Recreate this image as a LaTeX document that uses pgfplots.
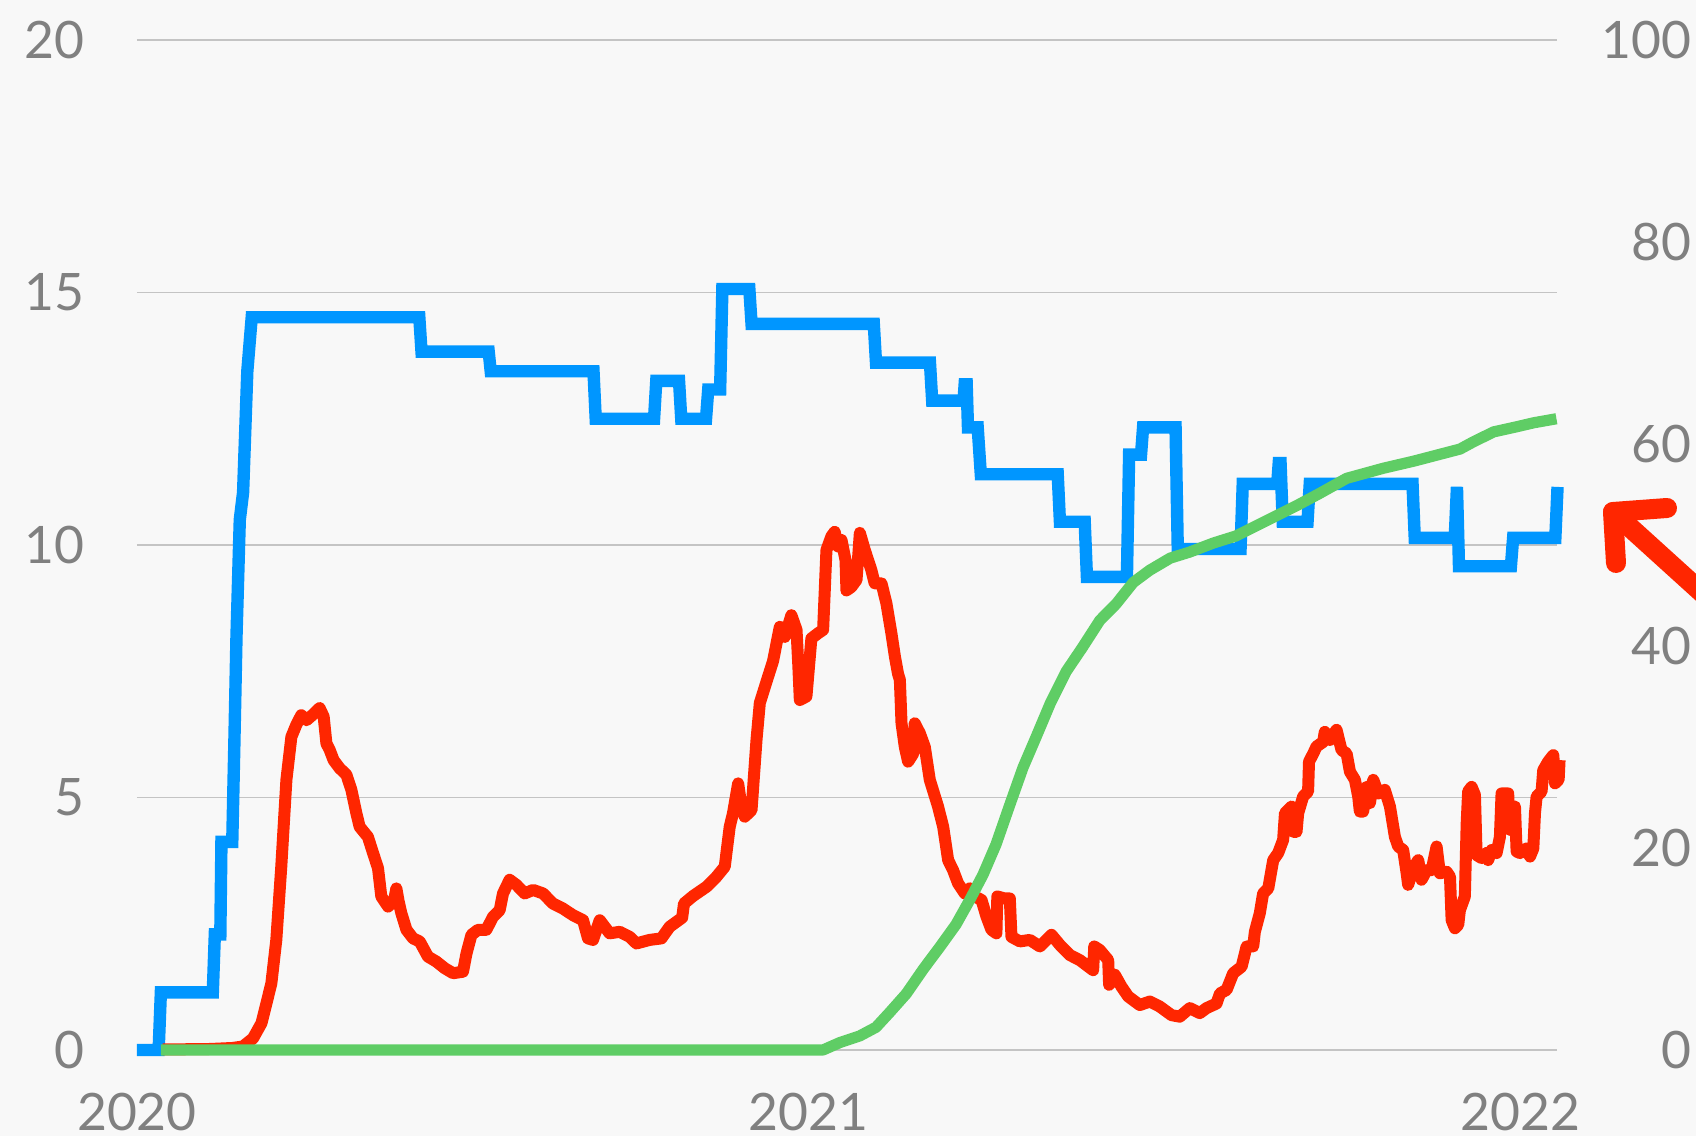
\documentclass[border=0pt]{standalone}
\usepackage{fontspec}
\setmainfont{Lato}
\usepackage{pgfplots}
\pgfplotsset{compat=1.18}
\definecolor{bg}{HTML}{F8F8F8}
\definecolor{tickgray}{HTML}{808080}
\definecolor{gridgray}{HTML}{C4C4C4}
\definecolor{cblue}{HTML}{0096FF}
\definecolor{cred}{HTML}{FF2600}
\definecolor{cgreen}{HTML}{5FCD65}
\begin{document}
\begin{tikzpicture}
\useasboundingbox (-34.25pt,-21.5pt) rectangle (389.75pt,262.5pt);
\fill[bg] (-34.25pt,-21.5pt) rectangle (389.75pt,262.5pt);
\pgfplotsset{common/.style={scale only axis, width=355pt, height=252.5pt,
  at={(0pt,0pt)}, anchor=south west, xmin=0, xmax=773.6, clip=false,
  axis line style={draw=none}, major tick style={draw=none}, minor tick style={draw=none},
  /pgf/number format/assume math mode=true,
  ticklabel style={font=\fontsize{12.9}{15}\selectfont, text=tickgray, inner sep=0pt}}}
\begin{axis}[common, ymin=0, ymax=20, ytick={0,5,10,15,20},
  ymajorgrids, grid style={gridgray, line width=0.45pt},
  xtick={0,366,753.9}, xticklabels={2020,2021,2022},
  xticklabel style={anchor=north, yshift=-10.5pt},
  yticklabel style={anchor=east, xshift=-13pt}]
% blue stepped series
\addplot[cblue, line width=3.1pt, line join=miter, miter limit=2] coordinates {
(0,0) (11.8,0) (13.0,1.14) (41.3,1.14) (42.4,2.29) (45.4,2.29) (46.0,4.12) (51.9,4.12)
(53.0,6.0) (54.2,8.19) (56.0,10.5) (57.8,11.04) (60.1,13.44) (62.5,14.51)
(153.8,14.51) (155.0,13.83) (191.6,13.83) (192.7,13.44) (248.7,13.44) (249.9,12.50)
(281.7,12.50) (282.9,13.25) (295.3,13.25) (296.5,12.50) (310.0,12.50) (311.2,13.08)
(317.7,13.08) (318.9,15.07) (333.6,15.07) (334.8,14.38) (401.4,14.38) (402.6,13.61)
(432.0,13.61) (433.2,12.86) (450.3,12.86) (450.9,13.18) (452.0,13.18) (452.7,12.33)
(458.0,12.33) (459.7,11.40) (501.6,11.40) (502.8,10.46) (516.3,10.46) (517.5,9.37)
(539.3,9.37) (540.5,11.79) (547.0,11.79) (548.1,12.33) (565.8,12.33) (567.0,9.92)
(601.2,9.92) (602.4,11.21) (621.2,11.21) (622.0,11.62) (623.0,11.62) (624.2,10.46)
(637.7,10.46) (638.9,11.21) (694.9,11.21) (696.1,10.14) (717.9,10.14) (719.1,11.15)
(720.2,9.58) (748.5,9.58) (749.7,10.14) (772.7,10.14) (773.9,11.15)
};
% red series
\addplot[cred, line width=3pt, line join=round] coordinates {
(14,0.01) (40,0.02) (52,0.04) (57.7,0.07) (63.2,0.23) (67.8,0.53) (70.5,0.92) (73.2,1.32)
(75.9,2.18) (78.6,3.63) (81.4,5.35) (84.1,6.2) (86.8,6.44) (89.5,6.63) (92.3,6.53)
(95.5,6.63) (99.5,6.77) (101.7,6.6) (103.2,6.07) (105.0,5.94) (107.1,5.74) (110.4,5.58)
(114.1,5.45) (116.8,5.15) (119.5,4.69) (121.3,4.42) (125.8,4.22) (128.6,3.9) (131.3,3.6)
(133.1,3.04) (136.8,2.84) (140.0,2.95) (141.3,3.2) (142.5,2.95) (144.0,2.71) (146.8,2.38)
(150.4,2.21) (154.0,2.15) (158.5,1.85) (163.1,1.75) (167.6,1.62) (172.2,1.52) (177.6,1.55)
(179.5,1.91) (182.2,2.28) (185.8,2.38) (190.3,2.38) (194.0,2.64) (197.6,2.77) (199.4,3.1)
(203.0,3.37) (206.7,3.27) (211.2,3.1) (215.8,3.17) (221.2,3.1) (226.6,2.9) (232.1,2.8)
(237.5,2.67) (243.0,2.57) (245.7,2.21) (248.4,2.18) (252.1,2.57) (257.5,2.31) (263.0,2.34)
(268.4,2.24) (272.1,2.11) (279.3,2.18) (285.7,2.21) (290.2,2.44) (297.0,2.62) (298.0,2.9)
(303.0,3.05) (310.2,3.23) (315.7,3.43) (320.2,3.63) (322.9,4.42) (324.7,4.69) (327.5,5.28)
(329.0,4.9) (331.1,4.62) (334.8,4.75) (337.5,6.14) (339.3,6.87) (343.0,7.3) (346.5,7.7)
(350.2,8.38) (352.9,8.18) (356.5,8.61) (359.3,8.32) (360.3,7.6) (361.1,6.93) (364.7,7.0)
(367.4,8.15) (371.0,8.25) (373.8,8.32) (375.6,9.9) (378.3,10.17) (380.1,10.26) (381.9,9.97)
(383.8,10.1) (386.0,9.7) (386.5,9.1) (389.2,9.17) (392.0,9.31) (393.8,10.24) (396.5,9.9)
(398.3,9.7) (400.1,9.5) (401.9,9.24) (405.6,9.24) (408.3,8.84) (411.0,8.25) (412.9,7.79)
(414.6,7.45) (415.6,7.33) (416.5,6.47) (418.3,6.0) (420.1,5.71) (422.9,5.87) (423.7,6.47)
(426.5,6.27) (429.2,6.0) (431.9,5.35) (436.4,4.82) (439.2,4.42) (441.9,3.76) (444.6,3.56)
(447.3,3.3) (451.0,3.1) (453.7,3.2) (456.4,3.04) (460.1,2.97) (462.8,2.64) (465.5,2.38)
(468.2,2.31) (468.7,3.04) (472.8,3.0) (475.5,3.0) (476.4,2.24) (481.0,2.15) (486.4,2.18)
(491.9,2.05) (498.2,2.28) (502.8,2.08) (508.2,1.88) (513.6,1.78) (520.9,1.58) (521.5,2.05)
(524.5,1.98) (529.1,1.78) (529.6,1.29) (532.7,1.49) (536.4,1.25) (540.0,1.06) (546.3,0.89)
(551.8,0.96) (557.2,0.86) (563.6,0.69) (568.1,0.66) (573.6,0.83) (579.0,0.73) (582.7,0.83)
(588.1,0.92) (590.0,1.12) (593.6,1.19) (597.2,1.52) (601.8,1.65) (604.5,2.05) (608.1,2.05)
(609.0,2.34) (611.7,2.71) (613.5,3.1) (616.3,3.2) (619.0,3.76) (621.7,3.9) (624.4,4.16)
(625.4,4.69) (629.0,4.82) (629.9,4.32) (631.7,4.32) (632.6,4.69) (635.3,5.02) (638.0,5.12)
(638.5,5.71) (640.8,5.87) (642.6,6.01) (646.2,6.1) (647.1,6.3) (649.9,6.14) (653.5,6.34)
(656.2,5.94) (659.0,5.87) (660.8,5.51) (663.5,5.35) (665.3,5.02) (666.2,4.72) (668.0,4.72)
(669.9,5.21) (671.7,4.89) (673.5,5.35) (676.2,5.08) (679.8,5.15) (682.6,4.82) (685.3,4.22)
(687.1,4.03) (689.8,3.96) (691.7,3.5) (692.5,3.27) (695.3,3.6) (698.0,3.76) (699.8,3.37)
(702.6,3.56) (705.3,3.56) (708.0,4.03) (709.8,3.5) (713.5,3.53) (715.3,3.43) (716.2,2.57)
(718.0,2.41) (719.8,2.48) (720.7,2.77) (723.4,3.04) (724.4,4.49) (725.2,5.12) (727.1,5.21)
(728.9,5.05) (729.8,3.86) (732.5,3.8) (735.2,3.9) (736.1,3.76) (738.0,3.96) (740.7,3.9)
(742.5,4.22) (743.4,5.08) (747.0,5.08) (747.9,4.36) (750.7,4.82) (751.6,3.93) (753.4,3.9)
(757.0,3.99) (758.9,3.83) (760.7,3.99) (761.6,4.69) (762.5,5.02) (765.2,5.12) (766.1,5.54)
(768.8,5.71) (771.6,5.84) (772.5,5.28) (774.5,5.35) (775.0,5.74)
};
\end{axis}
\begin{axis}[common, ymin=0, ymax=100, ytick={0,20,40,60,80,100},
  axis y line*=right, hide x axis,
  yticklabel style={anchor=east, xshift=33.75pt}]
% green series (right axis)
\addplot[cgreen, line width=2.8pt, line join=round] coordinates {
(13,0) (373.7,0) (383.1,0.75) (393.7,1.39) (402.6,2.25) (410.2,3.75) (419.1,5.57)
(428.5,8.04) (437.3,10.18) (446.2,12.43) (453.8,14.9) (460.9,17.36) (468.0,20.36)
(475.6,24.33) (482.7,27.97) (489.8,30.98) (497.5,34.3) (506.3,37.5) (515.1,39.87)
(524.6,42.55) (533.4,44.16) (542.8,46.3) (551.7,47.5) (562.9,48.7) (573.5,49.3)
(586.5,50.2) (598.8,50.9) (615.3,52.4) (631.8,53.9) (644.2,55.1) (659.0,56.6)
(679.0,57.6) (695.5,58.3) (720.8,59.5) (727.9,60.2) (739.1,61.2) (751.5,61.7)
(760.9,62.1) (773.3,62.5)
};
\end{axis}
\draw[cred, line width=5pt, line cap=round, line join=round]
  (369.75pt,121.75pt) -- (369pt,134.5pt) -- (382.5pt,135.5pt);
\draw[cred, line width=5pt, line cap=round] (369pt,134.5pt) -- (400pt,106.4pt);
\end{tikzpicture}
\end{document}
